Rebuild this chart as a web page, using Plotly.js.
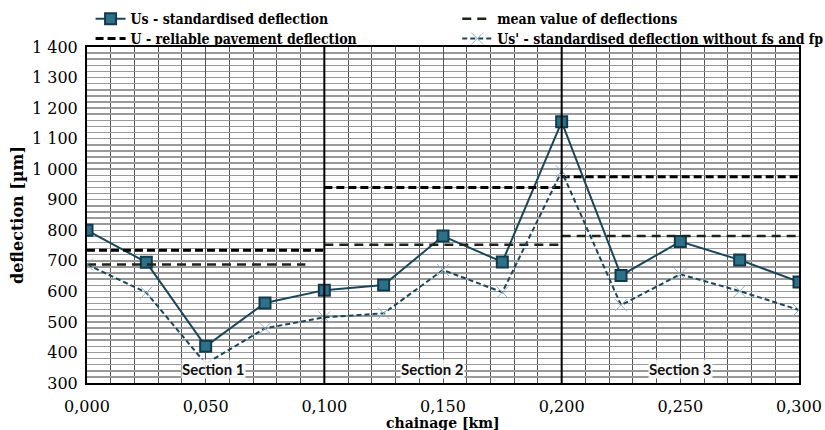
<!DOCTYPE html>
<html>
<head>
<meta charset="utf-8">
<script src="https://cdn.plot.ly/plotly-3.0.1.min.js"></script>
<style>
  html, body { margin: 0; padding: 0; background: #fff; }
  #chart { width: 825px; height: 430px; }
</style>
</head>
<body>
<div id="chart"></div>
<script>
// Chainage of measurement points [km]
const chainage = [0, 0.025, 0.05, 0.075, 0.1, 0.125, 0.15, 0.175, 0.2, 0.225, 0.25, 0.275, 0.3];
// Standardised deflection Us [µm]
const usValues = [800, 695, 420, 562, 604, 621, 781, 696, 1155, 652, 763, 703, 631];
// Standardised deflection without fs and fp, Us' [µm]
const usPrimeValues = [688, 596, 363, 479, 515, 528, 670, 597, 993, 555, 656, 601, 539];

// Homogeneous sections: start / end chainage [km]
const sectionStart = [0, 0.1, 0.2];
const sectionEnd = [0.1, 0.2, 0.3];
const sectionNames = ['Section 1', 'Section 2', 'Section 3'];
const sectionLabelX = [0.0535, 0.1455, 0.25];
const sectionLabelY = [346, 346, 346];
// Mean value of deflections per section [µm]
const meanValues = [688, 753, 781];
const meanEnd = [0.092, 0.2, 0.3];
// Reliable pavement deflection U per section [µm]
const reliableValues = [735, 940, 975];

const yTicks = [300, 400, 500, 600, 700, 800, 900, 1000, 1100, 1200, 1300, 1400];
const xTicks = [0, 0.05, 0.1, 0.15, 0.2, 0.25, 0.3];

// Build stepped per-section horizontal lines with gaps between sections
function sectionLine(values, ends) {
  const x = [], y = [];
  values.forEach((v, i) => {
    x.push(sectionStart[i], ends[i], null);
    y.push(v, v, null);
  });
  return { x, y };
}
const meanLine = sectionLine(meanValues, meanEnd);
const relLine = sectionLine(reliableValues, sectionEnd);

const serif = 'DejaVu Serif';
const serifNarrow = 'DejaVu Serif Condensed, DejaVu Serif';
const teal = '#1b4658';

const traces = [
  {
    x: chainage, y: usValues, name: 'Us - standardised deflection',
    mode: 'lines+markers', type: 'scatter', legend: 'legend',
    line: { color: teal, width: 2 },
    marker: { symbol: 'square', size: 11, color: '#2d7189', line: { color: '#123a4c', width: 2 } }
  },
  {
    x: meanLine.x, y: meanLine.y, name: 'mean value of deflections',
    mode: 'lines', type: 'scatter', connectgaps: false, legend: 'legend2',
    line: { color: '#1c2418', width: 2.5, dash: '9px,6px' }
  },
  {
    x: relLine.x, y: relLine.y, name: 'U - reliable pavement deflection',
    mode: 'lines', type: 'scatter', connectgaps: false, legend: 'legend3',
    line: { color: '#000', width: 3, dash: '8px,4px' }
  },
  {
    x: chainage, y: usPrimeValues, name: "Us' - standardised deflection without fs and fp",
    mode: 'lines+markers', type: 'scatter', legend: 'legend4',
    line: { color: teal, width: 2, dash: '5px,3px' },
    marker: { symbol: 'x-thin-open', size: 12, color: '#8fb2c6', line: { color: '#8fb2c6', width: 1 } }
  }
];

const shapes = sectionStart.slice(1).map(x => ({
  type: 'line', xref: 'x', yref: 'paper', x0: x, x1: x, y0: 0, y1: 1,
  line: { color: '#000', width: 2 }, layer: 'above'
}));

const annotations = sectionNames.map((t, i) => ({
  x: sectionLabelX[i], y: sectionLabelY[i], xref: 'x', yref: 'y',
  text: '<b>' + t + '</b>', showarrow: false,
  font: { family: 'Lato', size: 15, color: '#111' },
  bgcolor: 'rgba(255,255,255,0.85)', borderpad: 0
}));
// x-axis title, sitting just under the tick labels
annotations.push({
  x: 0.5, y: 0, xref: 'paper', yref: 'paper', yanchor: 'middle', yshift: -40,
  text: '<b>chainage [km]</b>', showarrow: false,
  font: { family: serif, size: 14, color: '#000' }
});

// One single-row legend per entry, laid out as two columns above the plot
function legendAt(x, y) {
  return {
    orientation: 'v', x: x, xanchor: 'left', y: y, yanchor: 'middle',
    itemwidth: 30, tracegroupgap: 0, bgcolor: 'rgba(0,0,0,0)',
    font: { family: serifNarrow, size: 14, color: '#000', weight: 'bold' }
  };
}

const layout = {
  width: 825, height: 430,
  margin: { l: 87, r: 26, t: 47, b: 47, autoexpand: false },
  paper_bgcolor: '#fff', plot_bgcolor: '#fff',
  separators: ', ',
  showlegend: true,
  legend: legendAt(0.005, 1.083),
  legend2: legendAt(0.52, 1.083),
  legend3: legendAt(0.005, 1.024),
  legend4: legendAt(0.52, 1.024),
  xaxis: {
    range: [0, 0.3], tickvals: xTicks, tickformat: '.3f',
    showline: true, mirror: true, linecolor: '#000', linewidth: 2,
    showgrid: true, gridcolor: '#555', gridwidth: 1,
    minor: { dtick: 0.01, showgrid: true, gridcolor: '#555', gridwidth: 1 },
    ticks: '', zeroline: false, ticklabelstandoff: 8, ticklabeloverflow: 'allow',
    tickfont: { family: serif, size: 16, color: '#000' }
  },
  yaxis: {
    range: [300, 1400], tickvals: yTicks, separatethousands: true,
    showline: true, mirror: true, linecolor: '#000', linewidth: 2,
    showgrid: true, gridcolor: '#999', gridwidth: 1.5,
    minor: { dtick: 20, tick0: 300, showgrid: true, gridcolor: '#999', gridwidth: 1.5 },
    ticks: '', zeroline: false, ticklabelstandoff: 4,
    tickfont: { family: serif, size: 16, color: '#000' },
    title: { text: 'deflection [µm]', font: { family: serif, size: 16, color: '#000', weight: 'bold' }, standoff: 4 }
  },
  shapes: shapes,
  annotations: annotations
};

Plotly.newPlot('chart', traces, layout, { displayModeBar: false, staticPlot: true });
</script>
</body>
</html>
